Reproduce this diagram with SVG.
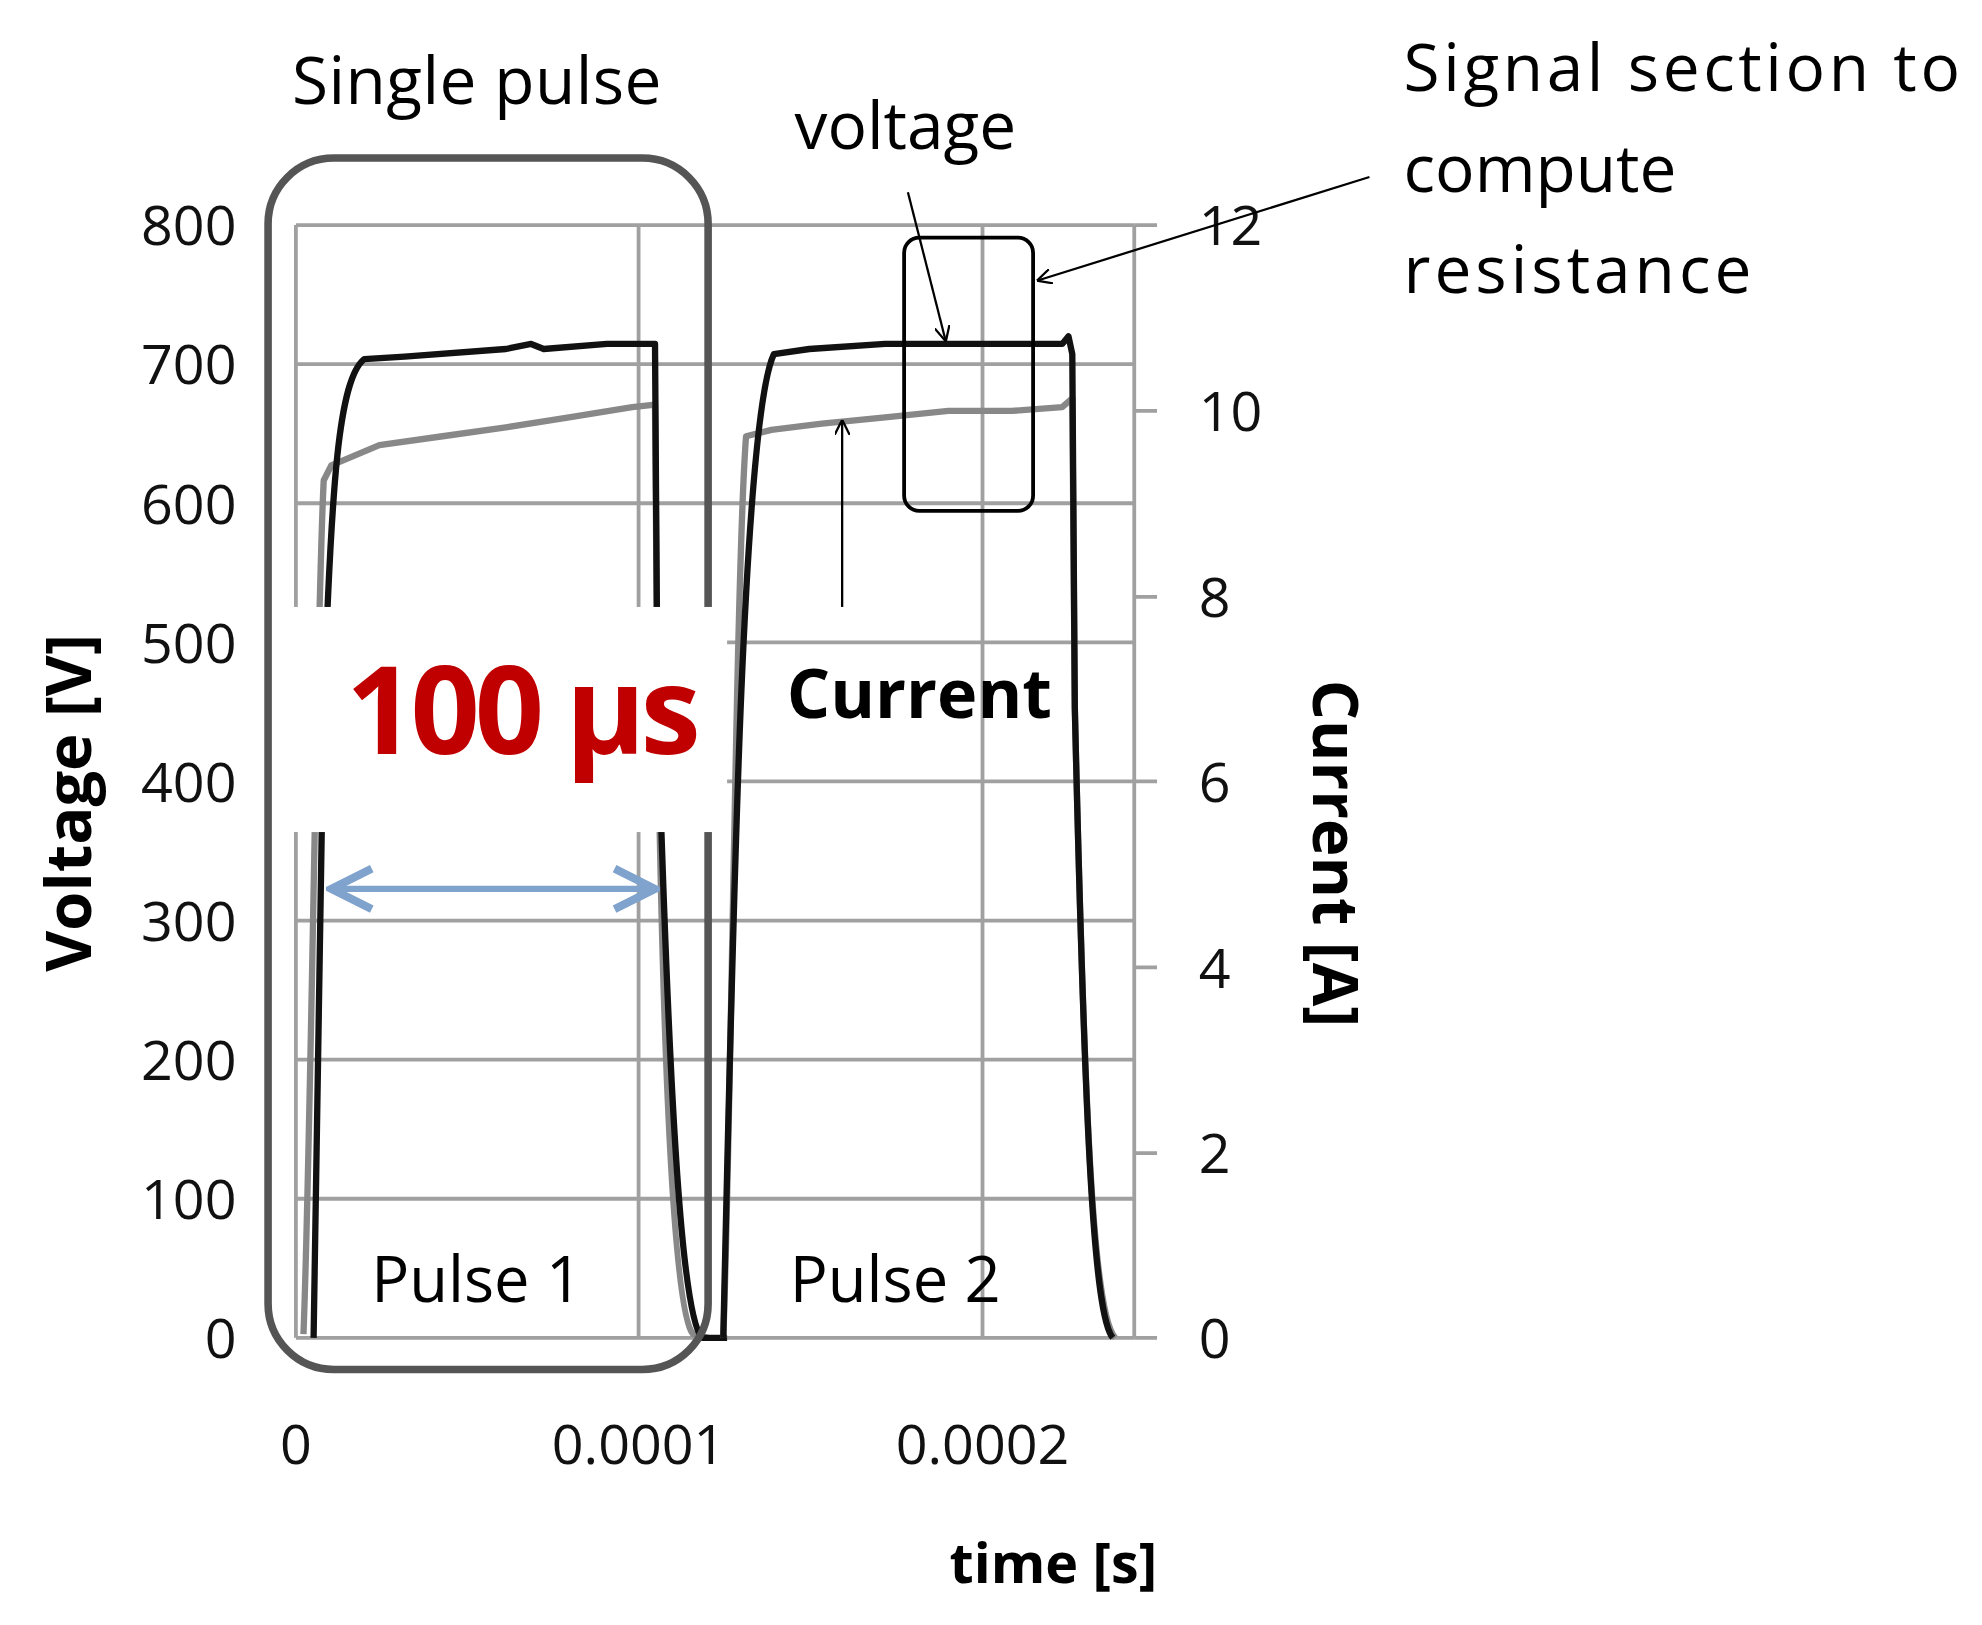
<svg xmlns="http://www.w3.org/2000/svg" width="1982" height="1625" viewBox="0 0 1982 1625">
<defs>
<marker id="ah" viewBox="0 0 10 10" refX="10" refY="5" markerWidth="12" markerHeight="12" markerUnits="userSpaceOnUse" orient="auto"><path d="M0,0 L10,5 L0,10" fill="none" stroke="#000" stroke-width="1.5"/></marker>
<marker id="bh" viewBox="0 0 10 10" refX="9" refY="5" markerWidth="8" markerHeight="8" orient="auto-start-reverse"><path d="M1,1 L9,5 L1,9" fill="none" stroke="#7fa3cc" stroke-width="1.6"/></marker>
</defs>
<style>
.t{font-family:"Open Sans","Liberation Sans",sans-serif;fill:#000}
.g{stroke:#a0a0a0;stroke-width:3;fill:none}
.ax{font-family:"Open Sans","Liberation Sans",sans-serif;font-size:44px;fill:#111}
</style>
<rect width="1982" height="1625" fill="#fff"/>
<g transform="scale(1.2645)">
<g id="grid">
<path class="g" d="M234,178H897M234,288H897M234,398H897M234,508H897M234,618H897M234,728H897M234,838H897M234,948H897M234,1058H897M234,178V1058M505,178V1058M777,178V1058M897,178V1058"/>
<path class="g" d="M897,178H915M897,325H915M897,472H915M897,618H915M897,765H915M897,912H915M897,1058H915"/>
</g>
<g id="axes">
<g class="ax" text-anchor="end">
<text x="187" y="194">800</text><text x="187" y="304">700</text><text x="187" y="414">600</text><text x="187" y="524">500</text><text x="187" y="634">400</text><text x="187" y="744">300</text><text x="187" y="854">200</text><text x="187" y="964">100</text><text x="187" y="1074">0</text>
</g>
<g class="ax">
<text x="948" y="194">12</text><text x="948" y="341">10</text><text x="948" y="488">8</text><text x="948" y="634">6</text><text x="948" y="781">4</text><text x="948" y="928">2</text><text x="948" y="1074">0</text>
</g>
<g class="ax" text-anchor="middle">
<text x="234" y="1158">0</text><text x="505" y="1158">0.0001</text><text x="777" y="1158">0.0002</text>
</g>
<text class="t" x="833" y="1252" font-size="44" font-weight="bold" text-anchor="middle">time [s]</text>
<text class="t" transform="translate(72,635) rotate(-90)" font-size="50" font-weight="bold" text-anchor="middle">Voltage [V]</text>
<text class="t" transform="translate(1038,675) rotate(90)" font-size="50" font-weight="bold" text-anchor="middle">Current [A]</text>
</g>
<g id="curves" fill="none" stroke-linejoin="round">
<path stroke="#888" stroke-width="5" d="M240,1055 C246,900 250,500 256,380 L262,368 L300,352 L350,345 L400,338 L450,330 L500,322 L518,320 L520,560 C525,900 535,1040 548,1055 L560,1058"/>
<path stroke="#111" stroke-width="5" d="M248,1058 L256,560 C262,380 268,300 288,284 L320,282 L400,276 L420,272 L430,276 L480,272 L518,272 L520,560 C530,900 540,1040 555,1058 L575,1058"/>
<path stroke="#888" stroke-width="5" d="M572,1058 C578,900 582,450 590,345 L610,340 L650,335 L700,330 L750,325 L800,325 L840,322 L848,315 L850,560 C858,900 865,1040 882,1058"/>
<path stroke="#111" stroke-width="5" d="M572,1058 C580,700 588,330 612,280 L640,276 L700,272 L800,272 L840,272 L845,266 L848,280 L850,560 C858,900 865,1040 880,1058"/>
</g>
<rect id="single-pulse" x="212" y="125" width="348" height="958" rx="52" fill="none" stroke="#555" stroke-width="6"/>
<rect id="section" x="715" y="188" width="102" height="216" rx="12" fill="none" stroke="#000" stroke-width="3"/>
<g id="duration">
<rect x="220" y="480" width="355" height="178" fill="#fff"/>
<text x="412" y="596" font-family="'Open Sans','Liberation Sans',sans-serif" font-size="96" font-weight="bold" fill="#c00000" text-anchor="middle" letter-spacing="-4">100 µs</text>
<line x1="262" y1="703" x2="518" y2="703" stroke="#7fa3cc" stroke-width="5" marker-start="url(#bh)" marker-end="url(#bh)"/>
</g>
<g id="labels">
<text class="t" x="377" y="82" font-size="52" text-anchor="middle" textLength="292">Single pulse</text>
<text class="t" x="716" y="118" font-size="52" text-anchor="middle">voltage</text>
<text class="t" x="727" y="568" font-size="54" font-weight="bold" text-anchor="middle">Current</text>
<text class="t" x="1110" y="72" font-size="52" textLength="440">Signal section to</text>
<text class="t" x="1110" y="152" font-size="52">compute</text>
<text class="t" x="1110" y="232" font-size="52" textLength="275">resistance</text>
<text class="t" x="377" y="1030" font-size="50" text-anchor="middle">Pulse 1</text>
<text class="t" x="708" y="1030" font-size="50" text-anchor="middle">Pulse 2</text>
</g>
<g id="connectors" stroke="#000" stroke-width="1.8" fill="none">
<line x1="666" y1="480" x2="666" y2="332" marker-end="url(#ah)"/>
<line x1="718" y1="152" x2="748" y2="270" marker-end="url(#ah)"/>
<line x1="1083" y1="140" x2="820" y2="222" marker-end="url(#ah)"/>
</g>
</g>
</svg>
